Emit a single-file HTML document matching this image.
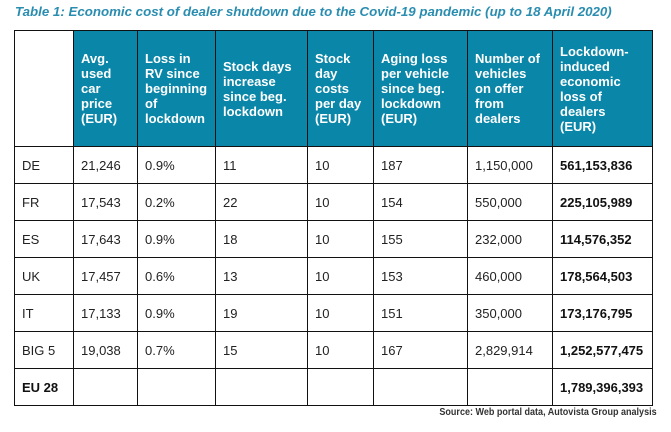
<!DOCTYPE html>
<html><head><meta charset="utf-8"><style>
body{margin:0;width:671px;height:432px;background:#fff;position:relative;overflow:hidden;font-family:"Liberation Sans",Arial,sans-serif;}
.title{position:absolute;left:15px;top:4px;font-size:13.3px;font-weight:bold;font-style:italic;color:#2a8db0;white-space:nowrap;}
table{position:absolute;left:14px;top:30px;border-collapse:collapse;table-layout:fixed;}
td,th{border:1.3px solid #111;padding:0 0 0 7px;font-size:13px;color:#222;text-align:left;vertical-align:middle;box-sizing:border-box;}
th{background:#0a86a8;color:#fff;font-weight:bold;line-height:15px;font-size:13px;}
th.blank{background:#fff;}
tr.r td{height:37px;}
tr.h th{height:116px;}
b{color:#111;}
.src{position:absolute;right:14px;top:406px;font-size:10.5px;font-weight:bold;color:#333;transform:scaleX(0.86);transform-origin:right;white-space:nowrap;}
</style></head><body>
<div class="title">Table 1: Economic cost of dealer shutdown due to the Covid-19 pandemic (up to 18 April 2020)</div>
<table>
<colgroup><col style="width:59px"><col style="width:64px"><col style="width:78px"><col style="width:92px"><col style="width:66px"><col style="width:94px"><col style="width:85px"><col style="width:100px"></colgroup>
<tr class="h">
<th class="blank"></th>
<th>Avg.<br>used<br>car<br>price<br>(EUR)</th>
<th>Loss in<br>RV since<br>beginning<br>of<br>lockdown</th>
<th>Stock days<br>increase<br>since beg.<br>lockdown</th>
<th>Stock<br>day<br>costs<br>per day<br>(EUR)</th>
<th>Aging loss<br>per vehicle<br>since beg.<br>lockdown<br>(EUR)</th>
<th>Number of<br>vehicles<br>on offer<br>from<br>dealers</th>
<th>Lockdown-<br>induced<br>economic<br>loss of<br>dealers<br>(EUR)</th>
</tr>
<tr class="r"><td>DE</td><td>21,246</td><td>0.9%</td><td>11</td><td>10</td><td>187</td><td>1,150,000</td><td><b>561,153,836</b></td></tr>
<tr class="r"><td>FR</td><td>17,543</td><td>0.2%</td><td>22</td><td>10</td><td>154</td><td>550,000</td><td><b>225,105,989</b></td></tr>
<tr class="r"><td>ES</td><td>17,643</td><td>0.9%</td><td>18</td><td>10</td><td>155</td><td>232,000</td><td><b>114,576,352</b></td></tr>
<tr class="r"><td>UK</td><td>17,457</td><td>0.6%</td><td>13</td><td>10</td><td>153</td><td>460,000</td><td><b>178,564,503</b></td></tr>
<tr class="r"><td>IT</td><td>17,133</td><td>0.9%</td><td>19</td><td>10</td><td>151</td><td>350,000</td><td><b>173,176,795</b></td></tr>
<tr class="r"><td>BIG 5</td><td>19,038</td><td>0.7%</td><td>15</td><td>10</td><td>167</td><td>2,829,914</td><td><b>1,252,577,475</b></td></tr>
<tr class="r"><td><b>EU 28</b></td><td></td><td></td><td></td><td></td><td></td><td></td><td><b>1,789,396,393</b></td></tr>
</table>
<div class="src">Source: Web portal data, Autovista Group analysis</div>
</body></html>
